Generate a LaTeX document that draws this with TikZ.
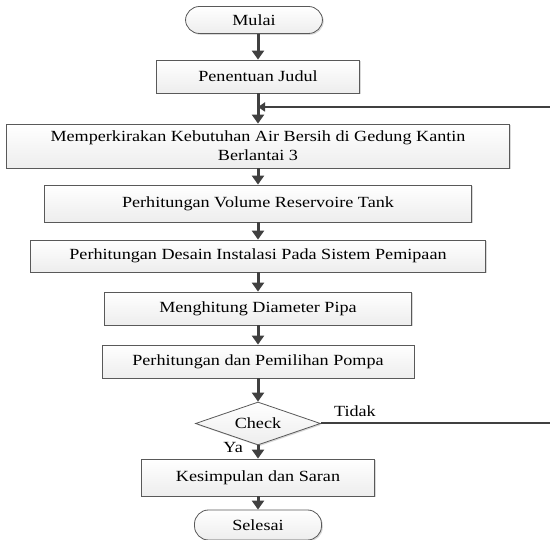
\documentclass[tikz,border=0pt]{standalone}
\usepackage{fontspec}
\setmainfont{Liberation Serif}[FakeStretch=1.17]
\usetikzlibrary{arrows.meta,shapes.geometric,shadows,calc}
\tikzset{
  >={Triangle[width=12pt,length=9pt]},
  % Specifications for style of nodes:
        base/.style = {rectangle, draw=gray!70!black, line width=0.8pt,
                       top color=white, bottom color=gray!14,
                       drop shadow={shadow xshift=1.3pt, shadow yshift=-1.3pt,
                                    opacity=0.3},
                       inner sep=0pt, align=center, text=black,
                       font=\fontsize{15.5}{18.6}\selectfont},
    terminal/.style = {base, rounded corners=14pt},
     process/.style = {base},
    decision/.style = {base, diamond, aspect=2.9},
  answerText/.style = {inner sep=0pt, text=black,
                       font=\fontsize{15.5}{18.6}\selectfont},
        flow/.style = {->, line width=3pt, draw=black!75},
    loopBack/.style = {-{Triangle[width=9pt,length=7pt]}, line width=2pt,
                       draw=black!75},
}

\begin{document}
\begin{tikzpicture}[x=1pt, y=-1pt, node distance=53pt]
    \useasboundingbox (0,0) rectangle (550,540);
    \clip (0,0) rectangle (550,540);

    % Specification of nodes (position, etc.)
    \node (mulai)      [terminal, minimum width=137pt, minimum height=27pt]
                                          at (254,20)        {Mulai};
    \node (judul)      [process, minimum width=203pt, minimum height=33pt,
                        below of=mulai, xshift=4pt, yshift=-3.5pt]
                                                    {Penentuan Judul};
    \node (kebutuhan)  [process, minimum width=503pt, minimum height=44pt,
                        below of=judul, yshift=-16.5pt]
      {Memperkirakan Kebutuhan Air Bersih di Gedung Kantin\\Berlantai 3};
    \node (volume)     [process, minimum width=427pt, minimum height=37pt,
                        below of=kebutuhan, yshift=-4.5pt]
                                 {Perhitungan Volume Reservoire Tank};
    \node (desain)     [process, minimum width=455pt, minimum height=32pt,
                        below of=volume, yshift=0.5pt]
                {Perhitungan Desain Instalasi Pada Sistem Pemipaan};
    \node (diameter)   [process, minimum width=307pt, minimum height=33pt,
                        below of=desain, yshift=0.5pt]
                                          {Menghitung Diameter Pipa};
    \node (pompa)      [process, minimum width=312pt, minimum height=33pt,
                        below of=diameter]
                                  {Perhitungan dan Pemilihan Pompa};
    \node (check)      [decision, minimum width=125pt, minimum height=43pt,
                        below of=pompa, yshift=-9pt]          {Check};
    \node (kesimpulan) [process, minimum width=233pt, minimum height=37pt,
                        below of=check, yshift=-1pt]
                                             {Kesimpulan dan Saran};
    \node (selesai)    [terminal, minimum width=127pt, minimum height=30pt,
                        below of=kesimpulan, yshift=5.5pt]  {Selesai};

    % answers of the decision
    \node (tidak) [answerText, anchor=base west]
                  at ([xshift=13pt, yshift=7pt]check.east)      {Tidak};
    \node (ya)    [answerText, anchor=base east]
                  at ([xshift=-15pt, yshift=-7pt]check.south)      {Ya};

    % points for the loop back, its far side lies past the right edge
    \coordinate (join)      at ($(judul.south)!0.45!(kebutuhan.north)$);
    \coordinate (rightEdge) at (556,0);

    % Specification of lines between nodes specified above
    \draw[flow] (mulai.south -| judul) -- (judul);
    \draw[flow] (judul)      -- (kebutuhan);
    \draw[flow] (kebutuhan)  -- (volume);
    \draw[flow] (volume)     -- (desain);
    \draw[flow] (desain)     -- (diameter);
    \draw[flow] (diameter)   -- (pompa);
    \draw[flow] (pompa)      -- (check);
    \draw[flow] (check)      -- (kesimpulan);
    \draw[flow] (kesimpulan) -- (selesai);
    \draw[loopBack] (check.east) -- (check.east -| rightEdge) |- (join);

  \end{tikzpicture}
\end{document}
